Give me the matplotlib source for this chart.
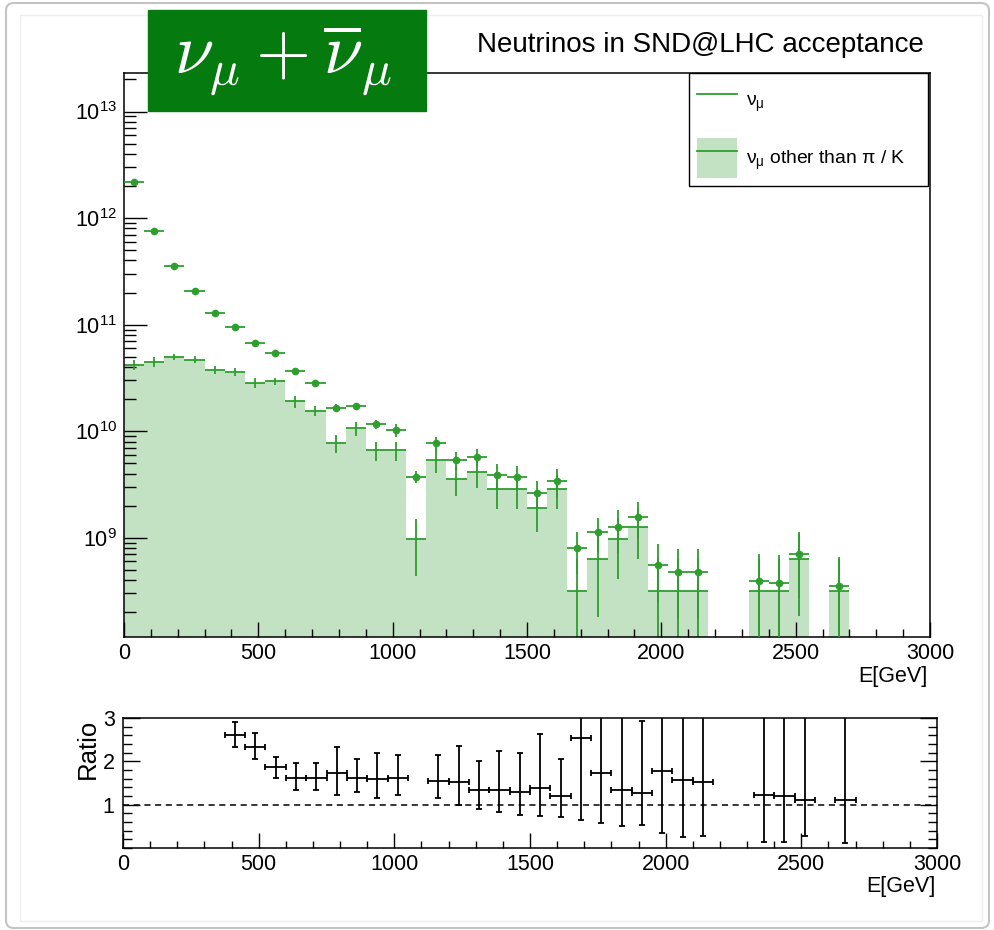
import numpy as np
import matplotlib
matplotlib.use("Agg")
import matplotlib.pyplot as plt
from matplotlib.lines import Line2D
from matplotlib.patches import Patch, Rectangle, FancyBboxPatch
from matplotlib.ticker import LogLocator, MultipleLocator, NullFormatter, FixedLocator

plt.rcParams['font.family'] = ['Liberation Sans', 'DejaVu Sans']
plt.rcParams['mathtext.fontset'] = 'custom'
plt.rcParams['mathtext.rm'] = 'Liberation Sans'
plt.rcParams['mathtext.it'] = 'Liberation Sans:italic'
plt.rcParams['mathtext.bf'] = 'Liberation Sans:bold'

# 40 bins of 75 GeV between 0 and 3000 GeV
bin_edges = np.arange(0, 3001, 75)
centers = 0.5 * (bin_edges[:-1] + bin_edges[1:])

# all nu_mu (points)
nu_mu = np.array([2.17e12, 7.49e11, 3.55e11, 2.08e11, 1.29e11, 9.6e10, 6.73e10, 5.47e10,
                  3.7e10, 2.84e10, 1.66e10, 1.71e10, 1.16e10, 1.03e10, 3.74e9, 7.67e9,
                  5.35e9, 5.68e9, 3.85e9, 3.74e9, 2.61e9, 3.43e9, 7.96e8, 1.12e9,
                  1.27e9, 1.58e9, 5.55e8, 4.8e8, 4.8e8, 0, 0, 3.9e8,
                  3.77e8, 7.03e8, 0, 3.56e8, 0, 0, 0, 0])
nu_mu_rel_err = np.array([0.01, 0.01, 0.015, 0.02, 0.025, 0.03, 0.035, 0.04,
                          0.045, 0.05, 0.075, 0.08, 0.10, 0.14, 0.13, 0.155,
                          0.19, 0.19, 0.27, 0.27, 0.30, 0.30, 0.43, 0.36,
                          0.43, 0.38, 0.56, 0.64, 0.64, 0, 0, 0.79,
                          0.82, 0.61, 0, 0.86, 0, 0, 0, 0])

# nu_mu other than pi / K (filled histogram)
other = np.array([4.2e10, 4.47e10, 4.98e10, 4.7e10, 3.79e10, 3.6e10, 2.84e10, 2.94e10,
                  1.9e10, 1.56e10, 7.67e9, 1.06e10, 6.6e9, 6.6e9, 9.66e8, 5.35e9,
                  3.52e9, 4.13e9, 2.88e9, 2.88e9, 1.89e9, 2.88e9, 3.16e8, 6.27e8,
                  9.66e8, 1.27e9, 3.16e8, 3.16e8, 3.16e8, 0, 0, 3.16e8,
                  3.16e8, 6.3e8, 0, 3.16e8, 0, 0, 0, 0])
other_rel_err = np.array([0.10, 0.10, 0.07, 0.075, 0.09, 0.09, 0.11, 0.08,
                          0.13, 0.11, 0.19, 0.155, 0.20, 0.21, 0.55, 0.24,
                          0.30, 0.29, 0.35, 0.35, 0.40, 0.35, 1.0, 0.71,
                          0.58, 0.50, 1.0, 1.0, 1.0, 0, 0, 1.0,
                          1.0, 0.71, 0, 1.0, 0, 0, 0, 0])

# ratio panel
nan = np.nan
ratio = np.array([nan, nan, nan, nan, nan, 2.61, 2.33, 1.86,
                  1.62, 1.62, 1.74, 1.62, 1.59, 1.62, nan, 1.55,
                  1.53, 1.35, 1.35, 1.29, 1.39, 1.19, 2.55, 1.73,
                  1.33, 1.26, 1.78, 1.58, 1.53, nan, nan, 1.23,
                  1.19, 1.11, nan, 1.11, nan, nan, nan, nan])
ratio_lo = np.array([0, 0, 0, 0, 0, 0.27, 0.28, 0.24,
                     0.28, 0.28, 0.51, 0.33, 0.43, 0.39, 0, 0.39,
                     0.53, 0.45, 0.52, 0.52, 0.66, 0.48, 1.9, 1.15,
                     0.82, 0.72, 1.43, 1.33, 1.25, 0, 0, 1.09,
                     1.05, 0.83, 0, 1.0, 0, 0, 0, 0])
ratio_hi = np.array([0, 0, 0, 0, 0, 0.30, 0.32, 0.25,
                     0.34, 0.35, 0.60, 0.43, 0.60, 0.53, 0, 0.60,
                     0.82, 0.66, 0.89, 0.90, 1.23, 0.86, 2.0, 2.0,
                     2.0, 1.68, 2.0, 2.0, 2.0, 0, 0, 2.0,
                     2.0, 2.0, 0, 2.0, 0, 0, 0, 0])

green = '#2e9e2e'
fill = '#c3e2c3'
half_w = 37.5

fig = plt.figure(figsize=(9.94, 9.30), dpi=100)

# window frame of the screenshot
fig.add_artist(FancyBboxPatch((6 / 994, 2 / 930), 983 / 994, 925 / 930,
                              boxstyle='round,pad=0,rounding_size=0.008',
                              transform=fig.transFigure, fill=False,
                              edgecolor='#c4c4c4', lw=1.5, zorder=0))
fig.add_artist(Rectangle((20 / 994, 1 - 921 / 930), 962 / 994, 906 / 930,
                         transform=fig.transFigure, fill=False,
                         edgecolor='#eeeeee', lw=1, zorder=0))

# ---- main panel
ax = fig.add_axes([124 / 994, 1 - 637 / 930, 806 / 994, 564 / 930])
ax.set_yscale('log')
ax.set_xlim(0, 3000)
ax.set_ylim(1.17e8, 2.3e13)

m = other > 0
ax.bar(centers[m], other[m] - 1, width=75, bottom=1, color=fill, lw=0, zorder=1)
o_err = other[m] * other_rel_err[m]
o_lo = np.minimum(o_err, other[m] - 1)
ax.errorbar(centers[m], other[m], xerr=half_w, yerr=[o_lo, o_err], fmt='none',
            ecolor=green, elinewidth=1.3, capsize=0, zorder=2)

mt = nu_mu > 0
n_err = nu_mu[mt] * nu_mu_rel_err[mt]
n_lo = np.minimum(n_err, nu_mu[mt] - 1)
ax.errorbar(centers[mt], nu_mu[mt], xerr=half_w, yerr=[n_lo, n_err], fmt='o', ms=4.5,
            color=green, mec=green, ecolor=green, elinewidth=1.3, capsize=0, zorder=3)

ax.yaxis.set_major_locator(LogLocator(base=10, numticks=20))
ax.yaxis.set_minor_locator(LogLocator(base=10, subs=np.arange(2, 10), numticks=20))
ax.yaxis.set_minor_formatter(NullFormatter())
ax.xaxis.set_major_locator(MultipleLocator(500))
ax.xaxis.set_minor_locator(MultipleLocator(100))
ax.tick_params(which='both', direction='in', top=False, right=False, labelsize=15.5, color='black')
ax.tick_params(axis='y', which='major', length=16.5, width=1, pad=5)
ax.tick_params(axis='y', which='minor', length=8.5, width=1)
ax.tick_params(axis='x', which='major', length=10.8, width=1, pad=4)
ax.tick_params(axis='x', which='minor', length=5.8, width=1)
for s in ax.spines.values():
    s.set_linewidth(1.1)

handles = [Line2D([], [], color=green, lw=1.3),
           (Patch(facecolor=fill, edgecolor='none'), Line2D([], [], color=green, lw=1.3))]
labels = [r'$\mathrm{\nu_{\mu}}$', r'$\mathrm{\nu_{\mu}}$ other than $\mathrm{\pi}$ / K']
leg = ax.legend(handles, labels, loc='upper left', bbox_to_anchor=(565 / 806, 0, 239 / 806, 1.0),
                mode='expand', borderaxespad=0, fontsize=13.9, handlelength=2.1,
                handleheight=2.8, labelspacing=0.9, borderpad=0.4, handletextpad=0.45,
                frameon=True, fancybox=False, edgecolor='black', framealpha=1)
leg.get_frame().set_linewidth(1.0)

fig.text(927 / 994, 1 - 676 / 930, 'E[GeV]', fontsize=15.5, ha='right', va='center')
fig.text(477 / 994, 1 - 45 / 930, 'Neutrinos in SND@LHC acceptance', fontsize=20,
         ha='left', va='center')

# green label box
fig.add_artist(Rectangle((148 / 994, 1 - 111 / 930), 278 / 994, 101 / 930,
                         transform=fig.transFigure, color='#057a0f', zorder=5))
fig.text(283 / 994, 1 - 60 / 930, r'$\nu_\mu + \overline{\nu}_\mu$', math_fontfamily='cm',
         fontsize=51, color='white', ha='center', va='center', zorder=6)

# ---- ratio panel
rax = fig.add_axes([123 / 994, 1 - 848 / 930, 814 / 994, 130 / 930])
rax.set_xlim(0, 3000)
rax.set_ylim(0, 3)
mr = ~np.isnan(ratio)
rax.errorbar(centers[mr], ratio[mr], xerr=half_w, yerr=[ratio_lo[mr], ratio_hi[mr]],
             fmt='none', ecolor='black', elinewidth=1.3, capsize=2.5, capthick=1.3, zorder=3)
rax.axhline(1, color='black', ls=(0, (4, 3)), lw=1.1, zorder=2)

rax.yaxis.set_major_locator(FixedLocator([1, 2, 3]))
rax.yaxis.set_minor_locator(MultipleLocator(0.2))
rax.xaxis.set_major_locator(MultipleLocator(500))
rax.xaxis.set_minor_locator(MultipleLocator(100))
rax.tick_params(which='both', direction='in', top=False, right=True, labelsize=15.5)
rax.tick_params(axis='y', which='major', length=12, width=1, pad=6)
rax.tick_params(axis='y', which='minor', length=6.3, width=1)
rax.tick_params(axis='x', which='major', length=10.8, width=1, pad=4)
rax.tick_params(axis='x', which='minor', length=5.2, width=1)
for s in rax.spines.values():
    s.set_linewidth(1.1)

fig.text(88 / 994, 1 - 749 / 930, 'Ratio', fontsize=18.5, rotation=90, ha='center', va='center')
fig.text(935 / 994, 1 - 886 / 930, 'E[GeV]', fontsize=15.5, ha='right', va='center')

fig.savefig('out.png', dpi=100)
